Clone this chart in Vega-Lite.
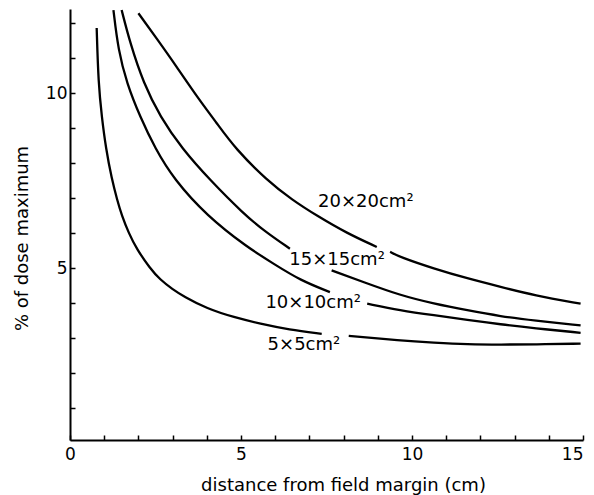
{
  "$schema": "https://vega.github.io/schema/vega-lite/v6.json",
  "width": 513,
  "height": 431,
  "autosize": {"type": "none"},
  "padding": {"left": 70, "top": 9, "right": 11, "bottom": 55},
  "background": "white",
  "config": {
    "view": {"stroke": null},
    "axis": {
      "grid": false,
      "domainColor": "black",
      "domainWidth": 2,
      "tickColor": "black",
      "tickWidth": 1.5,
      "tickSize": -5,
      "tickCount": 40,
      "format": "d",
      "labelColor": "black",
      "labelFont": "DejaVu Sans",
      "labelFontSize": 17,
      "labelOverlap": false,
      "labelBound": false,
      "titleColor": "black",
      "titleFont": "DejaVu Sans",
      "titleFontSize": 18,
      "titleFontWeight": "normal"
    }
  },
  "datasets": {
    "curves": [
      {"series": "5x5", "part": "a", "x": 0.78, "y": 11.86},
      {"series": "5x5", "part": "a", "x": 0.83, "y": 10.28},
      {"series": "5x5", "part": "a", "x": 0.93, "y": 9.32},
      {"series": "5x5", "part": "a", "x": 1.05, "y": 8.42},
      {"series": "5x5", "part": "a", "x": 1.22, "y": 7.55},
      {"series": "5x5", "part": "a", "x": 1.38, "y": 6.95},
      {"series": "5x5", "part": "a", "x": 1.51, "y": 6.52},
      {"series": "5x5", "part": "a", "x": 1.72, "y": 6.0},
      {"series": "5x5", "part": "a", "x": 1.95, "y": 5.55},
      {"series": "5x5", "part": "a", "x": 2.34, "y": 5.0},
      {"series": "5x5", "part": "a", "x": 2.63, "y": 4.68},
      {"series": "5x5", "part": "a", "x": 3.0, "y": 4.4},
      {"series": "5x5", "part": "a", "x": 3.32, "y": 4.2},
      {"series": "5x5", "part": "a", "x": 4.0, "y": 3.85},
      {"series": "5x5", "part": "a", "x": 4.8, "y": 3.6},
      {"series": "5x5", "part": "a", "x": 5.56, "y": 3.42},
      {"series": "5x5", "part": "a", "x": 6.4, "y": 3.25},
      {"series": "5x5", "part": "a", "x": 7.36, "y": 3.13},
      {"series": "5x5", "part": "b", "x": 8.15, "y": 3.07},
      {"series": "5x5", "part": "b", "x": 9.65, "y": 2.94},
      {"series": "5x5", "part": "b", "x": 10.64, "y": 2.88},
      {"series": "5x5", "part": "b", "x": 11.62, "y": 2.83},
      {"series": "5x5", "part": "b", "x": 12.6, "y": 2.82},
      {"series": "5x5", "part": "b", "x": 13.6, "y": 2.83},
      {"series": "5x5", "part": "b", "x": 14.93, "y": 2.85},
      {"series": "10x10", "part": "a", "x": 1.27, "y": 12.37},
      {"series": "10x10", "part": "a", "x": 1.41, "y": 11.23},
      {"series": "10x10", "part": "a", "x": 1.66, "y": 10.28},
      {"series": "10x10", "part": "a", "x": 2.05, "y": 9.32},
      {"series": "10x10", "part": "a", "x": 2.49, "y": 8.42},
      {"series": "10x10", "part": "a", "x": 3.03, "y": 7.55},
      {"series": "10x10", "part": "a", "x": 4.0, "y": 6.5},
      {"series": "10x10", "part": "a", "x": 5.17, "y": 5.61},
      {"series": "10x10", "part": "a", "x": 6.0, "y": 5.1},
      {"series": "10x10", "part": "a", "x": 6.73, "y": 4.66},
      {"series": "10x10", "part": "a", "x": 7.6, "y": 4.32},
      {"series": "10x10", "part": "b", "x": 8.69, "y": 3.99},
      {"series": "10x10", "part": "b", "x": 9.65, "y": 3.8},
      {"series": "10x10", "part": "b", "x": 10.64, "y": 3.66},
      {"series": "10x10", "part": "b", "x": 11.62, "y": 3.53},
      {"series": "10x10", "part": "b", "x": 12.59, "y": 3.4},
      {"series": "10x10", "part": "b", "x": 13.57, "y": 3.29},
      {"series": "10x10", "part": "b", "x": 14.93, "y": 3.16},
      {"series": "15x15", "part": "a", "x": 1.51, "y": 12.37},
      {"series": "15x15", "part": "a", "x": 1.76, "y": 11.42},
      {"series": "15x15", "part": "a", "x": 2.15, "y": 10.28},
      {"series": "15x15", "part": "a", "x": 2.64, "y": 9.32},
      {"series": "15x15", "part": "a", "x": 3.27, "y": 8.42},
      {"series": "15x15", "part": "a", "x": 4.1, "y": 7.51},
      {"series": "15x15", "part": "a", "x": 5.07, "y": 6.56},
      {"series": "15x15", "part": "a", "x": 5.7, "y": 6.05},
      {"series": "15x15", "part": "a", "x": 6.43, "y": 5.56},
      {"series": "15x15", "part": "b", "x": 7.65, "y": 4.94},
      {"series": "15x15", "part": "b", "x": 8.6, "y": 4.6},
      {"series": "15x15", "part": "b", "x": 9.65, "y": 4.23},
      {"series": "15x15", "part": "b", "x": 10.64, "y": 3.99},
      {"series": "15x15", "part": "b", "x": 11.62, "y": 3.8},
      {"series": "15x15", "part": "b", "x": 12.59, "y": 3.63},
      {"series": "15x15", "part": "b", "x": 13.57, "y": 3.51},
      {"series": "15x15", "part": "b", "x": 14.93, "y": 3.37},
      {"series": "20x20", "part": "a", "x": 2.0, "y": 12.28},
      {"series": "20x20", "part": "a", "x": 2.54, "y": 11.55},
      {"series": "20x20", "part": "a", "x": 3.12, "y": 10.75},
      {"series": "20x20", "part": "a", "x": 3.71, "y": 9.9},
      {"series": "20x20", "part": "a", "x": 4.3, "y": 9.13},
      {"series": "20x20", "part": "a", "x": 4.83, "y": 8.42},
      {"series": "20x20", "part": "a", "x": 5.76, "y": 7.51},
      {"series": "20x20", "part": "a", "x": 6.5, "y": 6.95},
      {"series": "20x20", "part": "a", "x": 7.22, "y": 6.5},
      {"series": "20x20", "part": "a", "x": 8.1, "y": 6.0},
      {"series": "20x20", "part": "a", "x": 8.97, "y": 5.61},
      {"series": "20x20", "part": "b", "x": 9.36, "y": 5.47},
      {"series": "20x20", "part": "b", "x": 9.65, "y": 5.32},
      {"series": "20x20", "part": "b", "x": 10.64, "y": 4.99},
      {"series": "20x20", "part": "b", "x": 11.62, "y": 4.71},
      {"series": "20x20", "part": "b", "x": 12.59, "y": 4.47},
      {"series": "20x20", "part": "b", "x": 13.57, "y": 4.23},
      {"series": "20x20", "part": "b", "x": 14.93, "y": 3.99}
    ],
    "labels": [
      {"label": "20×20cm²", "x": 8.65, "y": 6.89},
      {"label": "15×15cm²", "x": 7.81, "y": 5.23},
      {"label": "10×10cm²", "x": 7.11, "y": 4.0},
      {"label": "5×5cm²", "x": 6.84, "y": 2.8}
    ]
  },
  "layer": [
    {
      "data": {"name": "curves"},
      "mark": {"type": "line", "color": "black", "strokeWidth": 2.3, "interpolate": "basis"},
      "encoding": {
        "x": {
          "field": "x", "type": "quantitative",
          "scale": {"domain": [0, 15], "nice": false, "zero": false},
          "axis": {
            "values": [0, 1, 2, 3, 4, 5, 6, 7, 8, 9, 10, 11, 12, 13, 14, 15],
            "format": "d",
            "labelExpr": "datum.value % 5 === 0 ? datum.label : ''",
            "labelAlign": {"condition": {"test": "datum.value === 15", "value": "right"}, "value": "center"},
            "labelFlush": false,
            "labelPadding": 11,
            "title": "distance from field margin (cm)",
            "titleX": 273,
            "titleY": 45,
            "titleBaseline": "middle",
            "titleAlign": "center"
          }
        },
        "y": {
          "field": "y", "type": "quantitative",
          "scale": {"domain": [0.1, 12.4], "nice": false, "zero": false},
          "axis": {
            "values": [1, 2, 3, 4, 5, 6, 7, 8, 9, 10, 11, 12],
            "format": "d",
            "labelExpr": "datum.value % 5 === 0 ? datum.label : ''",
            "labelPadding": 8,
            "title": "% of dose maximum",
            "titleX": -48,
            "titleY": 229,
            "titleAngle": -90,
            "titleBaseline": "middle",
            "titleAlign": "center"
          }
        },
        "detail": [{"field": "series"}, {"field": "part"}],
        "order": {"field": "x", "type": "quantitative"}
      }
    },
    {
      "data": {"name": "labels"},
      "mark": {"type": "text", "font": "DejaVu Sans", "fontSize": 18, "color": "black", "align": "center", "baseline": "middle"},
      "encoding": {
        "x": {"field": "x", "type": "quantitative"},
        "y": {"field": "y", "type": "quantitative"},
        "text": {"field": "label"}
      }
    }
  ]
}
